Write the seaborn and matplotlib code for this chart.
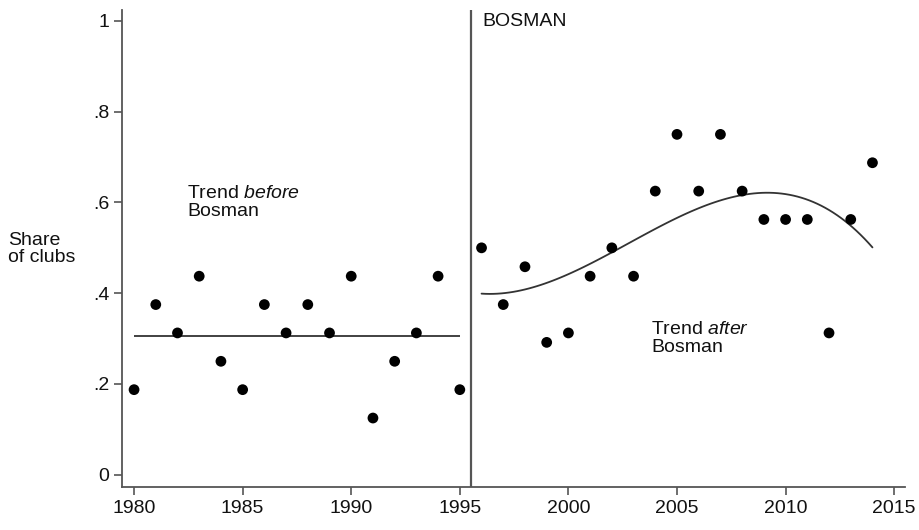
import numpy as np
import pandas as pd
import matplotlib
matplotlib.use("Agg")
import matplotlib.pyplot as plt
import seaborn as sns

pre_years = list(range(1980, 1996))
pre_share = [0.1875, 0.375, 0.3125, 0.4375, 0.25, 0.1875, 0.375, 0.3125,
             0.375, 0.3125, 0.4375, 0.125, 0.25, 0.3125, 0.4375, 0.1875]
post_years = list(range(1996, 2015))
post_share = [0.5, 0.375, 0.4583, 0.2917, 0.3125, 0.4375, 0.5, 0.4375,
              0.625, 0.75, 0.625, 0.75, 0.625, 0.5625, 0.5625, 0.5625,
              0.3125, 0.5625, 0.6875]
x_ticks = [1980, 1985, 1990, 1995, 2000, 2005, 2010, 2015]
y_ticks = [0, 0.2, 0.4, 0.6, 0.8, 1.0]
y_labels = ["0", ".2", ".4", ".6", ".8", "1"]
bosman_year = 1995.5

sns.set_theme(style="white")
plt.rcParams['font.family'] = ['Liberation Sans', 'DejaVu Sans']
plt.rcParams['mathtext.fontset'] = 'custom'
plt.rcParams['mathtext.rm'] = 'Liberation Sans'
plt.rcParams['mathtext.it'] = 'Liberation Sans:italic'

pre = pd.DataFrame({"year": pre_years, "share": pre_share})
post = pd.DataFrame({"year": post_years, "share": post_share})

fig = plt.figure(figsize=(9.19, 5.30), dpi=100)
ax = fig.add_axes([0.1324, 0.0811, 0.8524, 0.9])

line_col = "#333333"
fs = 14
sns.scatterplot(data=pre, x="year", y="share", ax=ax, color="black", s=60,
                edgecolor="none", zorder=3)
sns.scatterplot(data=post, x="year", y="share", ax=ax, color="black", s=60,
                edgecolor="none", zorder=3)
ax.hlines(np.mean(pre_share), pre_years[0], pre_years[-1], color=line_col, lw=1.3)
sns.regplot(data=post, x="year", y="share", order=3, ci=None, scatter=False,
            truncate=True, ax=ax, line_kws={"color": line_col, "lw": 1.3})
ax.axvline(bosman_year, color="#555555", lw=1.6)

ax.set_xlim(1979.43, 2015.5)
ax.set_ylim(-0.027, 1.024)
ax.set_xticks(x_ticks)
ax.set_xticklabels([str(t) for t in x_ticks])
ax.set_yticks(y_ticks)
ax.set_yticklabels(y_labels)
ax.set_xlabel("")
ax.set_ylabel("")
for s in ["top", "right"]:
    ax.spines[s].set_visible(False)
for s in ["left", "bottom"]:
    ax.spines[s].set_color("#555555")
    ax.spines[s].set_linewidth(1.3)
ax.tick_params(axis="both", which="major", direction="out", length=6, width=1.2,
               color="#555555", labelsize=fs, labelcolor="#111111", pad=3,
               bottom=True, left=True)

fig.text(8/919, 1-249/530, "Share\nof clubs", fontsize=fs, color="#111111",
         ha="left", va="center", linespacing=1.05)
ax.text(1982.45, 0.60, "Trend $\\mathit{before}$\nBosman", fontsize=fs, color="#111111",
        ha="left", va="center", linespacing=1.05)
ax.text(1996.02, 0.998, "BOSMAN", fontsize=fs, color="#111111", ha="left", va="center")
ax.text(2003.8, 0.30, "Trend $\\mathit{after}$\nBosman", fontsize=fs, color="#111111",
        ha="left", va="center", linespacing=1.05)

fig.savefig("out.png", dpi=100, facecolor="white")
